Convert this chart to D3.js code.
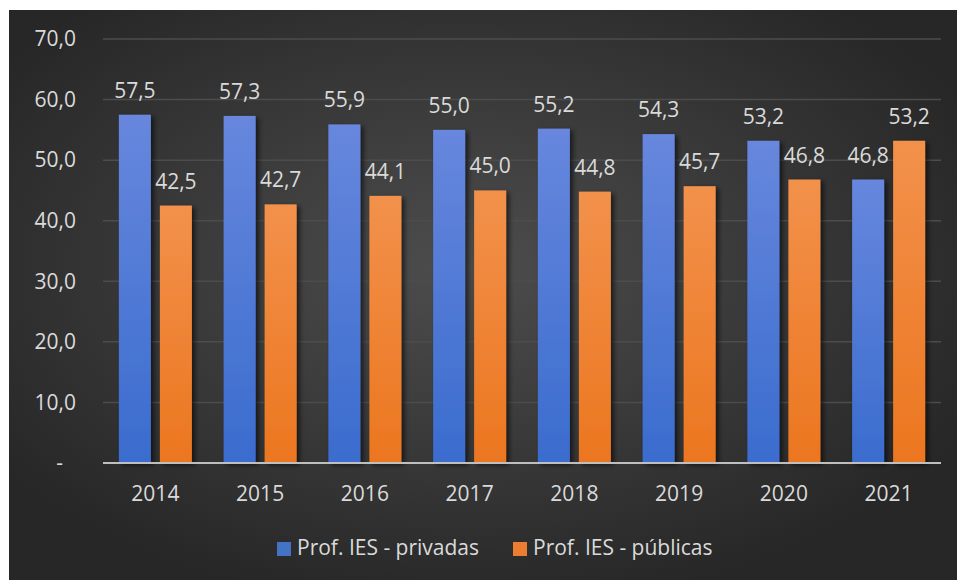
<!DOCTYPE html>
<html>
<head>
<meta charset="utf-8">
<script src="https://cdn.jsdelivr.net/npm/d3@7"></script>
<style>
  body { margin: 0; background: #fff; }
  svg { display: block; font-family: "Open Sans", sans-serif; }
</style>
</head>
<body>
<div id="chart"></div>
<script>
const years = ["2014", "2015", "2016", "2017", "2018", "2019", "2020", "2021"]
const privadas = [57.5, 57.3, 55.9, 55.0, 55.2, 54.3, 53.2, 46.8]
const publicas = [42.5, 42.7, 44.1, 45.0, 44.8, 45.7, 46.8, 53.2]
const seriesNames = ["Prof. IES - privadas", "Prof. IES - públicas"]
const yTicks = [0, 10, 20, 30, 40, 50, 60, 70]

const W = 957, H = 580
const margin = { top: 39, left: 103, right: 16, bottom: 117 }
const fontSize = 21

const fmt = v => v === 0 ? "-" : d3.format(".1f")(v).replace(".", ",")

const svg = d3.select("#chart").append("svg")
    .attr("width", W)
    .attr("height", H)

const defs = svg.append("defs")

const bg = defs.append("radialGradient")
    .attr("id", "bg")
    .attr("cx", "48%").attr("cy", "45%").attr("r", "60%")
bg.append("stop").attr("offset", "0%").attr("stop-color", "#4d4d4d")
bg.append("stop").attr("offset", "100%").attr("stop-color", "#272727")

const blueG = defs.append("linearGradient").attr("id", "blueG")
    .attr("x1", 0).attr("y1", 0).attr("x2", 0).attr("y2", 1)
blueG.append("stop").attr("offset", "0%").attr("stop-color", "#6787dd")
blueG.append("stop").attr("offset", "100%").attr("stop-color", "#3a6cce")

const orangeG = defs.append("linearGradient").attr("id", "orangeG")
    .attr("x1", 0).attr("y1", 0).attr("x2", 0).attr("y2", 1)
orangeG.append("stop").attr("offset", "0%").attr("stop-color", "#f2914b")
orangeG.append("stop").attr("offset", "100%").attr("stop-color", "#ec761f")

const shadow = defs.append("filter").attr("id", "shadow")
    .attr("x", "-20%").attr("y", "-10%").attr("width", "160%").attr("height", "130%")
shadow.append("feDropShadow")
    .attr("dx", 3).attr("dy", 2).attr("stdDeviation", 2.5)
    .attr("flood-color", "#000").attr("flood-opacity", 0.6)

svg.append("rect")
    .attr("x", 9).attr("y", 10)
    .attr("width", W - 9).attr("height", H - 10)
    .attr("fill", "url(#bg)")

const x = d3.scaleBand()
    .domain(years)
    .range([margin.left, W - margin.right])

const y = d3.scaleLinear()
    .domain([0, 70])
    .range([H - margin.bottom, margin.top])

const barW = 32, gap = 9

// gridlines
svg.append("g")
    .selectAll("line")
    .data(yTicks.filter(d => d > 0))
    .join("line")
    .attr("x1", margin.left)
    .attr("x2", W - margin.right)
    .attr("y1", d => y(d))
    .attr("y2", d => y(d))
    .attr("stroke", "#4c4c4c")
    .attr("stroke-width", 1.5)

// y axis labels
const yAxis = g => g
    .attr("transform", `translate(${margin.left - 27},0)`)
    .call(d3.axisLeft(y).tickValues(yTicks).tickSize(0).tickPadding(0).tickFormat(fmt))
    .call(g => g.select(".domain").remove())
    .call(g => g.selectAll("text")
        .attr("fill", "#dadada")
        .attr("font-size", fontSize)
        .attr("font-family", "Open Sans, sans-serif"))
    .call(g => g.selectAll(".tick").filter(d => d === 0).select("text")
        .attr("dx", -13))

svg.append("g").call(yAxis)

const groups = [
    { name: seriesNames[0], values: privadas, fill: "url(#blueG)", dx: -(barW + gap) / 2 },
    { name: seriesNames[1], values: publicas, fill: "url(#orangeG)", dx: (barW + gap) / 2 }
]

groups.forEach(s => {
    const cx = (d, i) => x(years[i]) + x.bandwidth() / 2 + s.dx
    svg.append("g")
        .attr("filter", "url(#shadow)")
        .selectAll("rect")
        .data(s.values)
        .join("rect")
        .attr("x", (d, i) => cx(d, i) - barW / 2)
        .attr("y", d => y(d))
        .attr("width", barW)
        .attr("height", d => y(0) - y(d))
        .attr("fill", s.fill)

    svg.append("g")
        .selectAll("text")
        .data(s.values)
        .join("text")
        .attr("x", cx)
        .attr("y", d => y(d) - 17)
        .attr("text-anchor", "middle")
        .attr("fill", "#dadada")
        .attr("font-size", fontSize)
        .text(fmt)
})

// baseline
svg.append("line")
    .attr("x1", margin.left)
    .attr("x2", W - margin.right)
    .attr("y1", y(0))
    .attr("y2", y(0))
    .attr("stroke", "#bfbfbf")
    .attr("stroke-width", 2)

const xAxis = g => g
    .attr("transform", `translate(0,${y(0)})`)
    .call(d3.axisBottom(x).tickSize(0).tickPadding(23))
    .call(g => g.select(".domain").remove())
    .call(g => g.selectAll("text")
        .attr("fill", "#dadada")
        .attr("font-size", fontSize)
        .attr("font-family", "Open Sans, sans-serif"))

svg.append("g").call(xAxis)

// legend
const legend = svg.append("g")
const legendX = [277, 513]
seriesNames.forEach((n, i) => {
    legend.append("rect")
        .attr("x", legendX[i]).attr("y", 542)
        .attr("width", 14).attr("height", 14)
        .attr("fill", i === 0 ? "#4472c4" : "#ed7d31")
    legend.append("text")
        .attr("x", legendX[i] + 20).attr("y", 555)
        .attr("fill", "#dadada")
        .attr("font-size", fontSize)
        .text(n)
})
</script>
</body>
</html>
